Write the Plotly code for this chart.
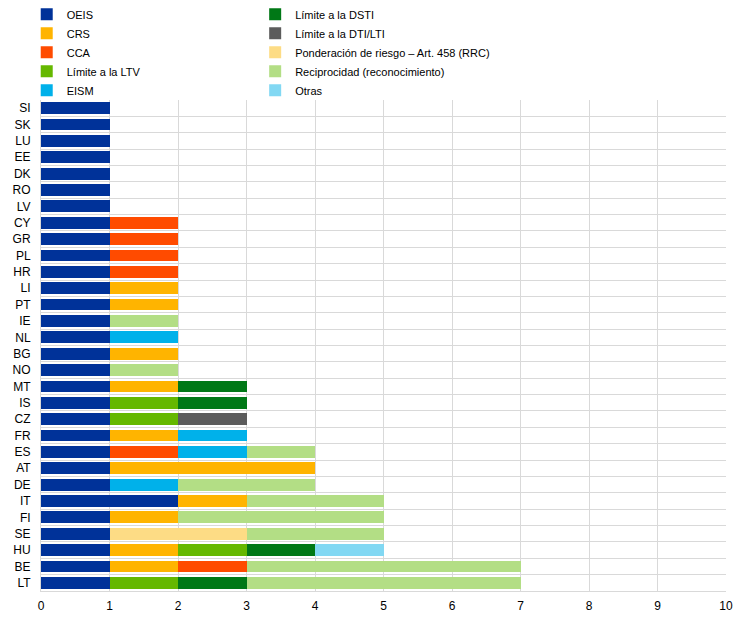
import plotly.graph_objects as go

# Countries, top to bottom as they appear in the chart
countries = ['SI', 'SK', 'LU', 'EE', 'DK', 'RO', 'LV', 'CY', 'GR', 'PL',
             'HR', 'LI', 'PT', 'IE', 'NL', 'BG', 'NO', 'MT', 'IS', 'CZ',
             'FR', 'ES', 'AT', 'DE', 'IT', 'FI', 'SE', 'HU', 'BE', 'LT']

# Number of measures per instrument (same order as countries)
oeis    = [1, 1, 1, 1, 1, 1, 1, 1, 1, 1, 1, 1, 1, 1, 1, 1, 1, 1, 1, 1, 1, 1, 1, 1, 2, 1, 1, 1, 1, 1]
crs     = [0, 0, 0, 0, 0, 0, 0, 0, 0, 0, 0, 1, 1, 0, 0, 1, 0, 1, 0, 0, 1, 0, 3, 0, 1, 1, 0, 1, 1, 0]
cca     = [0, 0, 0, 0, 0, 0, 0, 1, 1, 1, 1, 0, 0, 0, 0, 0, 0, 0, 0, 0, 0, 1, 0, 0, 0, 0, 0, 0, 1, 0]
ltv     = [0, 0, 0, 0, 0, 0, 0, 0, 0, 0, 0, 0, 0, 0, 0, 0, 0, 0, 1, 1, 0, 0, 0, 0, 0, 0, 0, 1, 0, 1]
eism    = [0, 0, 0, 0, 0, 0, 0, 0, 0, 0, 0, 0, 0, 0, 1, 0, 0, 0, 0, 0, 1, 1, 0, 1, 0, 0, 0, 0, 0, 0]
dsti    = [0, 0, 0, 0, 0, 0, 0, 0, 0, 0, 0, 0, 0, 0, 0, 0, 0, 1, 1, 0, 0, 0, 0, 0, 0, 0, 0, 1, 0, 1]
dti_lti = [0, 0, 0, 0, 0, 0, 0, 0, 0, 0, 0, 0, 0, 0, 0, 0, 0, 0, 0, 1, 0, 0, 0, 0, 0, 0, 0, 0, 0, 0]
rw_458  = [0, 0, 0, 0, 0, 0, 0, 0, 0, 0, 0, 0, 0, 0, 0, 0, 0, 0, 0, 0, 0, 0, 0, 0, 0, 0, 2, 0, 0, 0]
recip   = [0, 0, 0, 0, 0, 0, 0, 0, 0, 0, 0, 0, 0, 1, 0, 0, 1, 0, 0, 0, 0, 1, 0, 2, 2, 3, 2, 0, 4, 4]
otras   = [0, 0, 0, 0, 0, 0, 0, 0, 0, 0, 0, 0, 0, 0, 0, 0, 0, 0, 0, 0, 0, 0, 0, 0, 0, 0, 0, 1, 0, 0]

x_ticks = list(range(0, 11))

# (name, values, colour, legend column)
series = [
    ('OEIS', oeis, '#003299', 'legend'),
    ('CRS', crs, '#FFB400', 'legend'),
    ('CCA', cca, '#FF4B00', 'legend'),
    ('Límite a la LTV', ltv, '#65B800', 'legend'),
    ('EISM', eism, '#00B1EA', 'legend'),
    ('Límite a la DSTI', dsti, '#007816', 'legend2'),
    ('Límite a la DTI/LTI', dti_lti, '#5C5C5C', 'legend2'),
    ('Ponderación de riesgo – Art. 458 (RRC)', rw_458, '#FDDC85', 'legend2'),
    ('Reciprocidad (reconocimiento)', recip, '#B3DE85', 'legend2'),
    ('Otras', otras, '#82D8F3', 'legend2'),
]

font_family = 'Liberation Sans, Arial, sans-serif'

fig = go.Figure()

for name, vals, color, leg in series:
    fig.add_trace(go.Bar(
        y=countries,
        x=vals,
        orientation='h',
        name=name,
        marker={'color': color, 'line': {'width': 0}},
        legend=leg,
    ))

# the page body adds an 8px offset, so margins are set relative to it
legend_style = {
    'orientation': 'v',
    'xanchor': 'left',
    'yanchor': 'top',
    'y': 1.204,
    'xref': 'container',
    'yref': 'paper',
    'bgcolor': 'rgba(0,0,0,0)',
    'font': {'family': font_family, 'size': 11, 'color': '#000000'},
    'itemclick': 'toggle',
    'traceorder': 'normal',
}

fig.update_layout(
    barmode='stack',
    bargap=0.28,
    width=749,
    height=618,
    margin={'l': 33, 'r': 31, 't': 92, 'b': 35, 'autoexpand': False},
    paper_bgcolor='white',
    plot_bgcolor='white',
    font={'family': font_family, 'size': 12, 'color': '#000000'},
    showlegend=True,
    legend={**legend_style, 'x': 0.025},
    legend2={**legend_style, 'x': 0.33},
)

fig.update_xaxes(
    range=[0, 10],
    tickvals=x_ticks,
    showgrid=True,
    gridcolor='#D9D9D9',
    gridwidth=1,
    zeroline=False,
    showline=True,
    linecolor='#D9D9D9',
    ticks='',
    automargin=False,
    ticklabelstandoff=4,
    tickfont={'size': 12},
)

fig.update_yaxes(
    type='category',
    categoryorder='array',
    categoryarray=countries,
    autorange='reversed',
    tickson='boundaries',
    showgrid=True,
    gridcolor='#D9D9D9',
    gridwidth=1,
    showline=True,
    linecolor='#D9D9D9',
    ticks='',
    automargin=False,
    ticklabelstandoff=7,
    tickfont={'size': 12},
)

fig.write_html('out.html')
